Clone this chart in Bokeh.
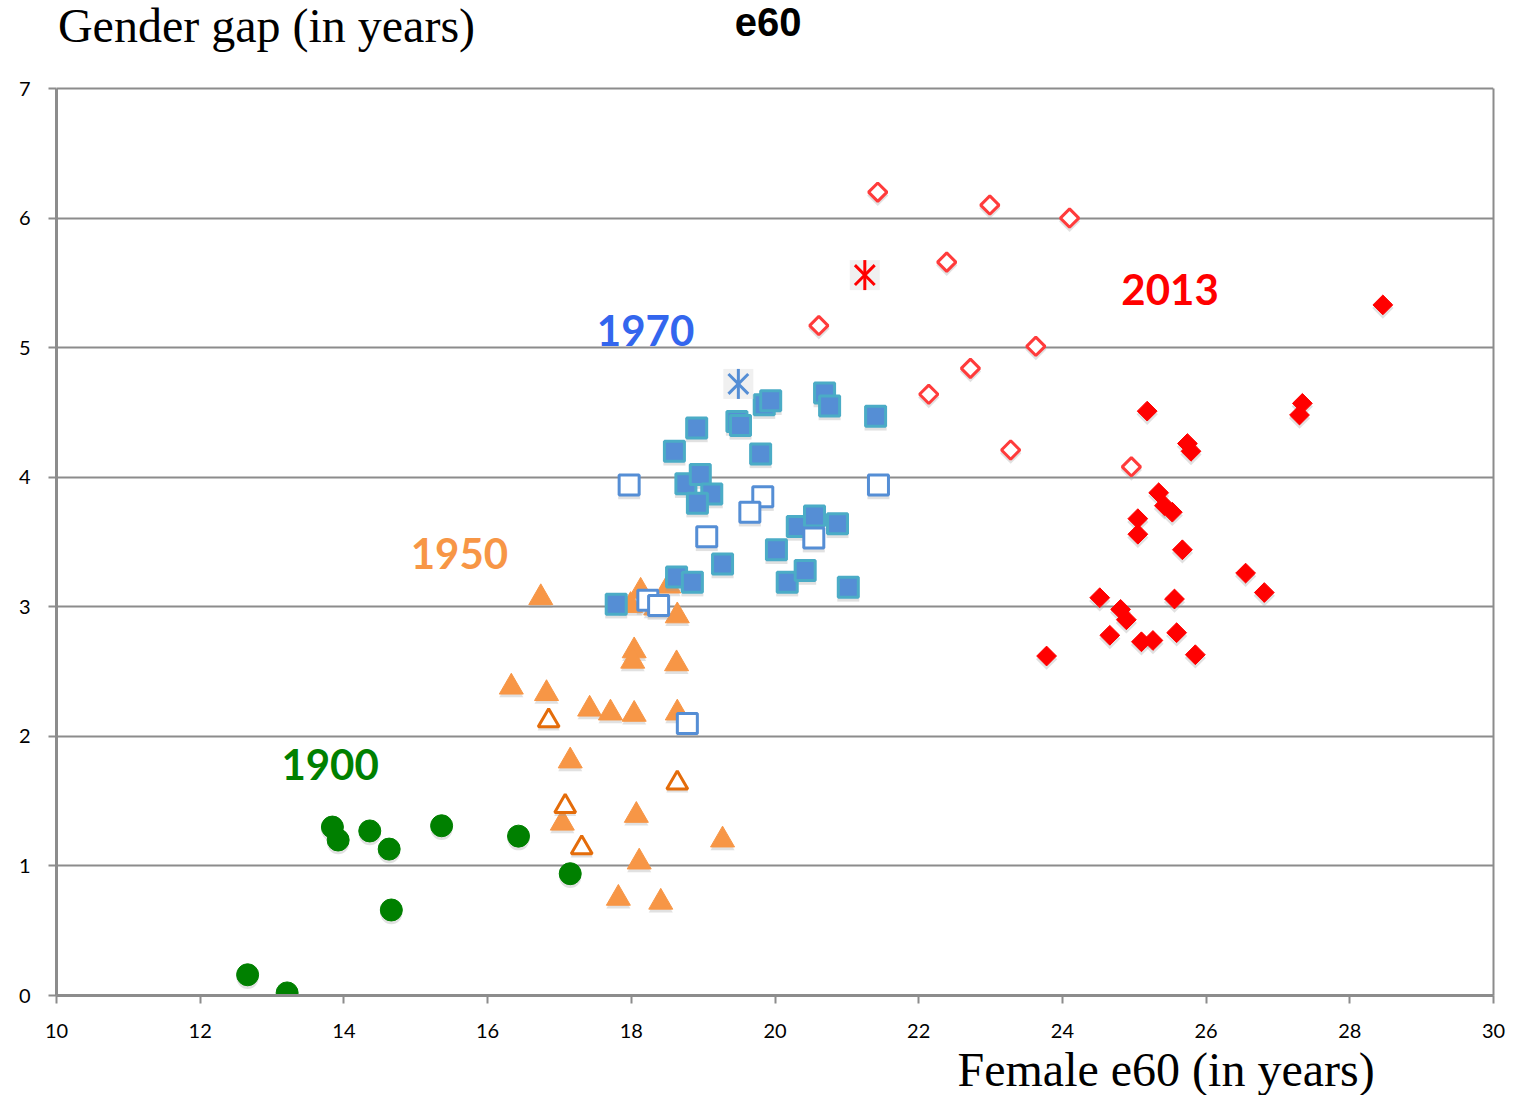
from bokeh.plotting import figure
from bokeh.models import (Label, ColumnDataSource, FixedTicker, Range1d, Title,
                          LinearAxis)
from bokeh.transform import dodge
from bokeh.embed import file_html
from bokeh.resources import INLINE
import math

# ---------------- data ----------------
x_ticks = [10, 12, 14, 16, 18, 20, 22, 24, 26, 28, 30]
y_ticks = [0, 1, 2, 3, 4, 5, 6, 7]

# 1900 (green circles)
y1900_x = [12.66, 13.21, 13.84, 13.92, 14.36, 14.63, 14.66, 15.36, 16.43, 17.15]
y1900_y = [0.16, 0.02, 1.30, 1.20, 1.27, 1.13, 0.66, 1.31, 1.23, 0.94]

# 1950 (orange triangles, filled)
y1950_x = [16.74, 16.33, 16.82, 17.15, 17.42, 17.71, 18.04, 18.04, 18.02, 18.63,
           18.64, 18.64, 17.04, 18.07, 18.11, 17.82, 18.41, 19.27, 18.13, 17.99,
           18.34, 18.52]
y1950_y = [3.07, 2.38, 2.33, 1.81, 2.21, 2.18, 2.17, 2.66, 2.58, 2.56,
           2.18, 2.93, 1.33, 1.39, 1.03, 0.75, 0.72, 1.20, 3.12, 3.01,
           2.99, 3.16]
# 1950 (hollow triangles)
y1950h_x = [16.85, 17.08, 17.31, 18.64]
y1950h_y = [2.12, 1.46, 1.14, 1.64]

# 1970 (blue squares, filled)
y1970_x = [17.79, 18.63, 18.85, 19.27, 18.60, 18.91, 18.76, 18.96, 19.12, 18.92,
           19.47, 19.52, 19.85, 19.94, 19.80, 20.69, 20.76, 21.40, 20.02, 20.31,
           20.55, 20.87, 20.17, 20.42, 21.02]
y1970_y = [3.02, 3.23, 3.19, 3.33, 4.20, 4.38, 3.95, 4.02, 3.87, 3.80,
           4.43, 4.40, 4.56, 4.59, 4.18, 4.65, 4.55, 4.47, 3.44, 3.62,
           3.70, 3.64, 3.19, 3.28, 3.15]
# 1970 (hollow squares)
y1970h_x = [17.97, 21.44, 19.83, 19.65, 19.05, 20.54, 18.78, 18.23, 18.38]
y1970h_y = [3.94, 3.94, 3.85, 3.73, 3.54, 3.53, 2.10, 3.05, 3.01]
# 1970 star
star1970_x = [19.49]
star1970_y = [4.72]

# 2013 (red diamonds, filled)
y2013_x = [28.46, 27.34, 27.30, 25.18, 25.74, 25.79, 25.34, 25.42, 25.53, 25.05,
           25.05, 25.67, 26.55, 26.81, 24.52, 25.56, 24.81, 24.89, 24.66, 25.10,
           25.26, 25.59, 25.85, 23.78]
y2013_y = [5.33, 4.57, 4.48, 4.51, 4.26, 4.20, 3.88, 3.78, 3.73, 3.68,
           3.56, 3.44, 3.26, 3.11, 3.07, 3.06, 2.98, 2.90, 2.78, 2.73,
           2.74, 2.80, 2.63, 2.62]
# 2013 (hollow diamonds)
y2013h_x = [21.43, 22.99, 24.10, 22.39, 20.61, 23.63, 22.72, 22.14, 23.28, 24.96]
y2013h_y = [6.20, 6.10, 6.00, 5.66, 5.17, 5.01, 4.84, 4.64, 4.21, 4.08]
# 2013 star
star2013_x = [21.25]
star2013_y = [5.56]

# ---------------- figure ----------------
GRID = "#8c8c8c"
X0, X1 = 10, 30
Y0, Y1 = 0, 7
PX_PER_Y = 907 / (Y1 - Y0)          # plot band height in px
TOP_PAD = 88                          # room above the 7 line for the titles

p = figure(frame_width=1437, frame_height=907 + TOP_PAD,
           x_range=Range1d(X0, X1),
           y_range=Range1d(Y0, Y1 + TOP_PAD / PX_PER_Y),
           output_backend="svg", toolbar_location=None, title=None,
           min_border_left=56, min_border_top=0, min_border_right=21,
           min_border_bottom=0)
p.background_fill_color = "white"
p.border_fill_color = "white"
p.outline_line_color = None

# horizontal grid lines (the 7 line is the top border)
p.xgrid.visible = False
p.ygrid.grid_line_color = GRID
p.ygrid.grid_line_width = 2
p.ygrid.ticker = FixedTicker(ticks=y_ticks)

for ax in (p.xaxis[0], p.yaxis[0]):
    ax.axis_line_color = GRID
    ax.axis_line_width = 3
    ax.major_tick_line_color = GRID
    ax.major_tick_line_width = 2
    ax.major_tick_out = 8
    ax.major_tick_in = 0
    ax.minor_tick_line_color = None
    ax.major_label_text_font = "Lato"
    ax.major_label_text_font_size = "20px"
    ax.major_label_text_color = "#000000"

p.xaxis.ticker = FixedTicker(ticks=x_ticks)
p.yaxis.ticker = FixedTicker(ticks=y_ticks)
p.xaxis.bounds = (X0, X1)
p.yaxis.bounds = (Y0, Y1)
p.xaxis.major_label_standoff = 20
p.yaxis.major_label_standoff = 18

# right border: a bare axis line from 0 to 7
right = LinearAxis(ticker=FixedTicker(ticks=[]), bounds=(Y0, Y1),
                   axis_line_color=GRID, axis_line_width=2,
                   major_tick_line_color=None, minor_tick_line_color=None,
                   major_label_text_font_size="0px")
p.add_layout(right, "right")

# x axis title below, placed under the right half like the reference
p.add_layout(Title(text="Female e60 (in years)", align="left", offset=901,
                   text_font="Liberation Serif", text_font_size="48px",
                   text_font_style="normal", text_color="#000000",
                   standoff=0), "below")


def shadow(src, marker, size, angle=0.0):
    p.scatter(x="x", y=dodge("y", -0.025, range=p.y_range), source=src,
              marker=marker, size=size, angle=angle,
              fill_color="#9a9a9a", fill_alpha=0.30, line_color=None)


def src(xs, ys):
    return ColumnDataSource(dict(x=xs, y=ys))

# 1900 circles
s = src(y1900_x, y1900_y)
shadow(s, "circle", 22)
p.scatter(x="x", y="y", source=s, marker="circle", size=22,
          fill_color="#008000", line_color="#008000")

# 1950 triangles
s = src(y1950_x, y1950_y)
shadow(s, "triangle", 24)
p.scatter(x="x", y="y", source=s, marker="triangle", size=24,
          fill_color="#f79646", line_color="#f79646")
s = src(y1950h_x, y1950h_y)
shadow(s, "triangle", 22)
p.scatter(x="x", y="y", source=s, marker="triangle", size=21,
          fill_color="white", line_color="#e46c0a", line_width=3)

# 1970 squares
s = src(y1970_x, y1970_y)
shadow(s, "square", 22)
p.scatter(x="x", y="y", source=s, marker="square", size=20,
          fill_color="#558ed5", line_color="#4bacc6", line_width=3)
s = src(y1970h_x, y1970h_y)
shadow(s, "square", 22)
p.scatter(x="x", y="y", source=s, marker="square", size=20,
          fill_color="white", line_color="#558ed5", line_width=3)

# 2013 diamonds
s = src(y2013_x, y2013_y)
shadow(s, "square", 15, math.pi / 4)
p.scatter(x="x", y="y", source=s, marker="square", size=14, angle=math.pi / 4,
          fill_color="#ff0000", line_color="#ff0000", line_width=1)
s = src(y2013h_x, y2013h_y)
shadow(s, "square", 15, math.pi / 4)
p.scatter(x="x", y="y", source=s, marker="square", size=13, angle=math.pi / 4,
          fill_color="white", line_color="#ff3b3b", line_width=3)

# stars (6-ray asterisks)
for xs, ys, col in ((star1970_x, star1970_y, "#558ed5"),
                    (star2013_x, star2013_y, "#ff0000")):
    s = src(xs, ys)
    p.scatter(x="x", y="y", source=s, marker="square", size=30,
              fill_color="#e6e6e6", fill_alpha=0.6, line_color=None)
    p.scatter(x="x", y="y", source=s, marker="x", size=28,
              line_color=col, line_width=3)
    p.scatter(x="x", y="y", source=s, marker="dash", size=30, angle=math.pi / 2,
              line_color=col, line_width=3)

# ---------------- texts ----------------
def label(x, y, text, color, font, size, style="normal", align="left"):
    p.add_layout(Label(x=x, y=y, text=text, text_color=color, text_font=font,
                       text_font_size=size, text_font_style=style,
                       text_align=align, text_baseline="alphabetic"))

label(13.13, 1.78, "1900", "#008000", "Lato", "42px", "bold")
label(14.93, 3.41, "1950", "#f79646", "Lato", "42px", "bold")
label(17.52, 5.13, "1970", "#3366ee", "Lato", "42px", "bold")
label(24.82, 5.45, "2013", "#ff0000", "Lato", "42px", "bold")

label(X0 + 0.02, 7.485, "Gender gap (in years)", "#000000", "Liberation Serif", "48px")
label(19.44, 7.515, "e60", "#000000", "Liberation Sans", "40px", "bold")

open("out.html", "w").write(file_html(p, INLINE))
